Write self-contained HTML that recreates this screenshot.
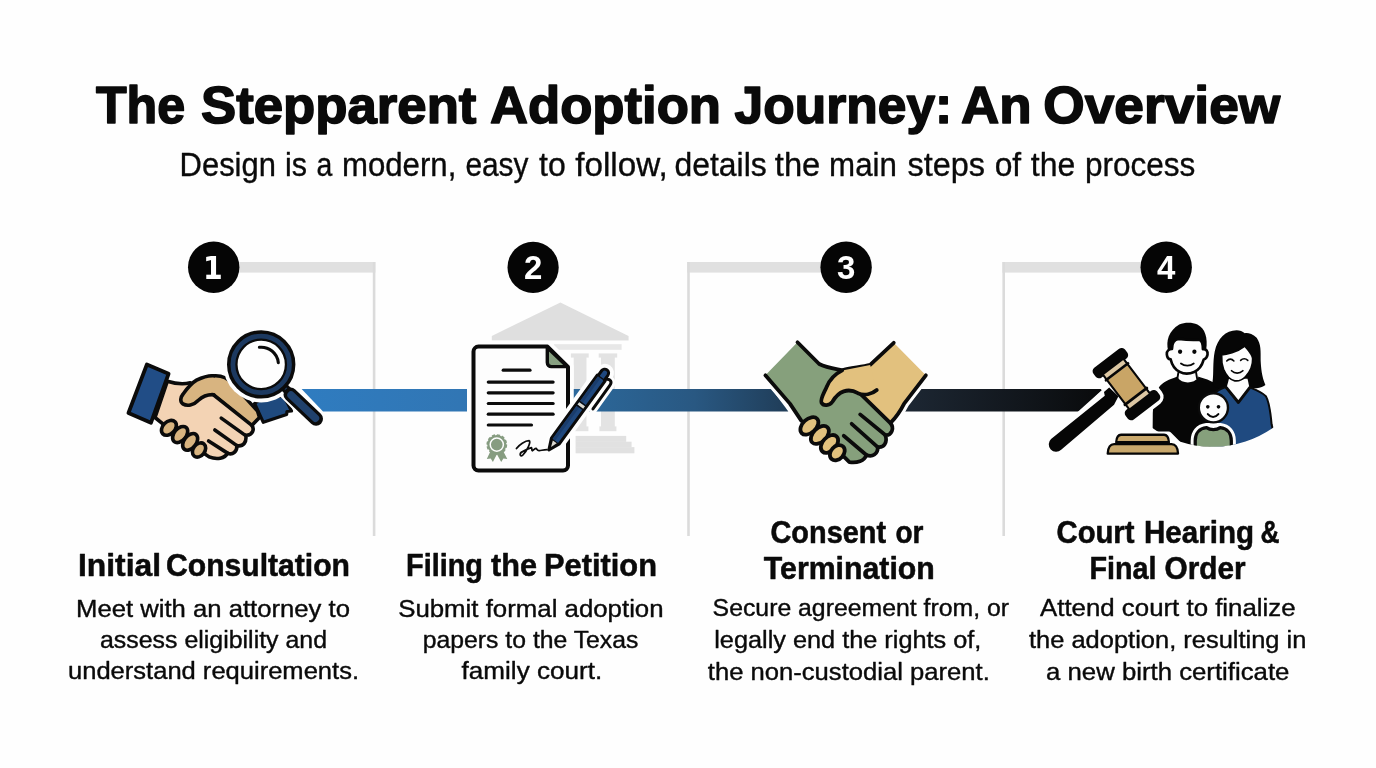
<!DOCTYPE html>
<html lang="en">
<head>
<meta charset="utf-8">
<title>The Stepparent Adoption Journey: An Overview</title>
<style>
html,body{margin:0;padding:0;background:#fff;}
body{width:1376px;height:768px;overflow:hidden;font-family:"Liberation Sans",sans-serif;}
svg{display:block;will-change:transform;}
text{font-family:"Liberation Sans",sans-serif;fill:#0a0a0a;}
.num{fill:#fff;font-weight:bold;font-size:33px;text-anchor:middle;}
</style>
</head>
<body>
<svg width="1376" height="768" viewBox="0 0 1376 768">
<defs>
<linearGradient id="tl" gradientUnits="userSpaceOnUse" x1="300" y1="0" x2="1105" y2="0">
<stop offset="0" stop-color="#2f7cc0"/>
<stop offset="0.2" stop-color="#3176b4"/>
<stop offset="0.373" stop-color="#2b6596"/>
<stop offset="0.49" stop-color="#295882"/>
<stop offset="0.6" stop-color="#203e5a"/>
<stop offset="0.76" stop-color="#1c2632"/>
<stop offset="1" stop-color="#090a0b"/>
</linearGradient>
<clipPath id="famclip">
<path transform="translate(1140,315) scale(0.18226)" d="M-100,-100 H900 V500 L742,610 A580,580 0 0 1 54,610 L-100,500 Z"/>
</clipPath>

</defs>
<rect width="1376" height="768" fill="#fefefe"/>
<!-- brackets -->
<g fill="#e0e0e0">
<rect x="230" y="262" width="145.4" height="10.6"/>
<rect x="687.2" y="262" width="150" height="10.6"/>
<rect x="1002.4" y="262" width="150" height="10.6"/>
</g>
<g fill="#dbdbdb">
<rect x="372.8" y="262" width="2.6" height="274"/>
<rect x="687.2" y="262" width="2.6" height="274"/>
<rect x="1002.4" y="262" width="2.6" height="274"/>
</g>

<g id="court">
<polygon points="560.4,302.5 628.6,336 628.6,340.6 491.8,340.6 491.8,336" fill="#dfdfdf"/>
<rect x="553.9" y="344.2" width="67.7" height="5.6" fill="#e7e7e7"/>
<g fill="#e3e3e3">
<rect x="570.9" y="353.4" width="17.8" height="4.2"/>
<rect x="573.7" y="357" width="12.8" height="70"/>
<rect x="572" y="426.4" width="16.4" height="4.8"/>
<rect x="598.7" y="353.4" width="18.5" height="4.2"/>
<rect x="601" y="357" width="13.8" height="70"/>
<rect x="599.4" y="426.4" width="17" height="4.8"/>
</g>
<g fill="#e1e1e1">
<rect x="575.6" y="435.9" width="50.6" height="6"/>
<rect x="575.6" y="441.7" width="56" height="5.6"/>
<rect x="575.6" y="447.1" width="58.8" height="6.2"/>
</g>
</g>

<!-- timeline -->
<g fill="url(#tl)">
<polygon points="301.6,389 467,389 467,411.6 323,411.6"/>
<polygon points="560,389 771.6,389 788.4,411.6 560,411.6"/>
<polygon points="921,389 1103.6,389 1079.6,411.6 903,411.6"/>
</g>

<!-- icons -->
<g id="icon2">
<!-- document halo -->
<path d="M478.5,346.6 H547.5 L568,367 V465.6 a5,5 0 0 1 -5,5 H478.5 a5,5 0 0 1 -5,-5 V351.6 a5,5 0 0 1 5,-5 Z" fill="#fefefe" stroke="#fefefe" stroke-width="11.5" stroke-linejoin="round"/>
<!-- document -->
<path d="M478.5,346.6 H547.5 L568,367 V465.6 a5,5 0 0 1 -5,5 H478.5 a5,5 0 0 1 -5,-5 V351.6 a5,5 0 0 1 5,-5 Z" fill="#fdfdfd" stroke="#0b0b0b" stroke-width="4" stroke-linejoin="round"/>
<!-- fold -->
<path d="M547.3,347.5 V362.6 a4,4 0 0 0 4,4 H567.2 Z" fill="#87a081" stroke="#0b0b0b" stroke-width="3.4" stroke-linejoin="round"/>
<!-- text lines -->
<g stroke="#0b0b0b" stroke-width="3.2" stroke-linecap="round" fill="none">
<path d="M503.2,370.2 H530"/>
<path d="M488.3,382.1 H553.1"/>
<path d="M488.3,392.8 H553.1"/>
<path d="M488.3,403.5 H553.1"/>
<path d="M488.3,414.2 H553.1"/>
<path d="M488.3,425 H531.5"/>
</g>
<!-- seal -->
<g fill="#869c80">
<polygon points="490.3,451.6 486.8,459 490.7,458.6 492.9,462.1 497.3,453.5"/>
<polygon points="496.5,453.5 501.2,462.1 503.4,458.6 507.3,459 503.4,451.6"/>
<circle cx="496.8" cy="444.6" r="9.6" stroke="#869c80" stroke-width="1.6" stroke-dasharray="3.2 1.8"/>
<circle cx="496.8" cy="444.6" r="6.6" fill="none" stroke="#fdfdfd" stroke-width="1.5"/>
</g>
<!-- pen -->
<g transform="translate(548.9,449.9) rotate(-54)">
  <path d="M0,0 L11,-5 H90 V-4 H95 a4,4 0 0 1 4,4 a4,4 0 0 1 -4,4 H90 V5 H11 Z" fill="#fefefe" stroke="#fefefe" stroke-width="10.5" stroke-linejoin="round"/>
  <path d="M91,6 C93,9 92,11.6 88,11.6 L59,11.8" fill="none" stroke="#fefefe" stroke-width="8.5" stroke-linecap="round"/>
  <path d="M91,5 C93.5,8 92.5,11.4 88,11.4 L59,11.6" fill="none" stroke="#0b0b0b" stroke-width="3" stroke-linecap="round"/>
  <path d="M0,0 L11,-4.9 H89 V-3.9 H95 a3.9,3.9 0 0 1 0,7.8 H89 V4.9 H11 Z" fill="#1f487e" stroke="#0b0b0b" stroke-width="3" stroke-linejoin="round"/>
  <path d="M11,-3.6 H89 V-0.4 H11 Z" fill="#1a3c6b"/>
  <path d="M0,0 L11,-4.9 V4.9 Z" fill="#0b0b0b"/>
  <path d="M3.6,0 L10,-2.4 V2.4 Z" fill="#dcdad2"/>
  <rect x="53.5" y="-3.5" width="3" height="7" fill="#dcd8cc"/>
  <path d="M52.6,-4.6 V4.6 M57.4,-4.6 V4.6 M89,-4 V4" stroke="#0b0b0b" stroke-width="1.3" fill="none"/>
</g>
<!-- signature -->
<g transform="translate(465,415) scale(0.08721)">
<path d="M590,385 C620,340 690,295 735,295 C765,300 705,420 662,460 C630,487 618,440 660,420 C700,397 740,380 762,374 C772,384 760,405 772,410 C790,400 800,384 816,384 C826,394 830,410 850,408 C880,405 900,400 940,398" fill="none" stroke="#0b0b0b" stroke-width="20" stroke-linecap="round" stroke-linejoin="round"/>
</g>
</g>

<g id="icon1">
<!-- right cuff (behind magnifier) -->
<path d="M254.6,403.5 L263.3,422.3 L286.6,414.6 L287,411.5 L291.5,411 L284,396 L262,398 Z" fill="#1f4a7e" stroke="#0b0b0b" stroke-width="3.2" stroke-linejoin="round"/>
<!-- hands: coordinates in 6.4x zoom space of region (120,350) -->
<g transform="translate(120,350) scale(0.15625)" stroke="#0b0b0b" stroke-width="23" stroke-linejoin="round" stroke-linecap="round">
  <!-- tan hand back -->
  <path d="M400,320 C430,240 500,190 590,166 C650,158 690,180 720,215 L880,390 L893,432 L840,486 L600,290 Z" fill="#d8b480"/>
  <!-- light hand -->
  <path d="M303,200 C350,215 400,222 450,210 L600,288 L838,478 C866,502 850,548 805,545 C812,590 790,620 748,612 C750,652 720,674 688,660 C672,694 620,704 570,684 L520,650 L290,485 L224,432 Z" fill="#f3d3b4"/>
  <!-- finger separators -->
  <path d="M648,436 L800,545 M607,512 L748,612 M567,582 L688,660" fill="none"/>
  <!-- tan thumb -->
  <path d="M600,286 C560,283 530,296 500,323 C470,355 430,362 402,345 C383,330 386,303 403,283 C428,248 455,213 490,193 C530,173 570,163 600,165" fill="#d8b480"/>
  <!-- tan finger tips -->
  <g fill="#d8b480">
  <ellipse cx="313" cy="498" rx="55" ry="39" transform="rotate(-45 313 498)"/>
  <ellipse cx="385" cy="541" rx="59" ry="39" transform="rotate(-50 385 541)"/>
  <ellipse cx="449" cy="588" rx="60" ry="39" transform="rotate(-52 449 588)"/>
  <ellipse cx="506" cy="640" rx="50" ry="37" transform="rotate(-52 506 640)"/>
  </g>
  <!-- left cuff -->
  <path d="M172,93 L311,152 L198,466 L54,403 Z" fill="#214d86" stroke-width="24"/>
</g>
<!-- magnifier -->
<g fill="none">
  <path d="M284,387 L316.5,419.5" stroke="#fefefe" stroke-width="19" stroke-linecap="round"/>
  <circle cx="261.2" cy="364.4" r="38" fill="#fefefe"/>
  <path d="M282,385 L292,395" stroke="#0b0b0b" stroke-width="8.5"/>
  <path d="M282,385 L292,395" stroke="#1e3c63" stroke-width="2.5"/>
  <path d="M290.5,394.5 L316,418.8" stroke="#0b0b0b" stroke-width="14" stroke-linecap="round"/>
  <path d="M291,395 L315.5,418.3" stroke="#20416c" stroke-width="7.4" stroke-linecap="round"/>
  <circle cx="261.2" cy="364.4" r="28.9" fill="#fefefe" stroke="#0b0b0b" stroke-width="10.6"/>
  <circle cx="261.2" cy="364.4" r="28.3" stroke="#1c3960" stroke-width="4.8"/>
  <path d="M259.4,347.3 A17.2,17.2 0 0 1 278.3,362.6" stroke="#0b0b0b" stroke-width="3.1" stroke-linecap="round"/>
</g>
</g>

<g id="icon3" transform="translate(755,330) scale(0.18878)" stroke="#0b0b0b" stroke-width="20" stroke-linejoin="round" stroke-linecap="round">
  <!-- white halo -->
  <path d="M225,65 L340,180 L465,210 L610,185 L735,68 L905,240 L790,390 L735,490 L720,540 L690,600 L640,660 L570,700 L500,705 L440,690 L300,590 L240,490 L185,390 L55,240 Z" fill="#fefefe" stroke="#fefefe" stroke-width="52"/>
  <!-- tan arm + hand back -->
  <path d="M735,68 L905,240 L790,390 C775,420 760,450 715,495 L480,330 L440,225 C470,205 540,200 610,185 Z" fill="#e2c17e" stroke="none"/>
  <path d="M905,240 L790,390 C775,420 760,450 718,492 M735,68 L610,185 C560,198 500,200 462,214" fill="none"/>
  <!-- green arm + hand -->
  <path d="M225,65 L340,180 C380,200 420,205 462,214 L560,340 L716,492 C742,520 722,560 690,556 C704,596 682,626 650,620 C652,656 622,676 590,662 C580,694 540,706 500,700 L440,640 L245,480 C225,450 205,420 185,390 L55,240 Z" fill="#86a07c" stroke="none"/>
  <path d="M225,65 L340,180 C380,200 420,205 462,214 M560,340 L716,492 C742,520 722,560 690,556 C704,596 682,626 650,620 C652,656 622,676 590,662 C580,694 540,706 500,700 L455,655 M245,480 C225,450 205,420 185,390 L55,240" fill="none"/>
  <path d="M557,447 L690,556 M512,497 L650,620 M470,560 L590,662" fill="none"/>
  <!-- tan thumb -->
  <path d="M462,214 C420,235 395,265 380,300 C365,335 345,365 352,385 C362,405 395,402 410,380 C425,355 440,335 470,325 C500,315 520,320 545,335 C580,350 620,340 645,318 L610,185 Z" fill="#e2c17e" stroke="none"/>
  <path d="M462,214 C420,235 395,265 380,300 C365,335 345,365 352,385 C362,405 395,402 410,380 C425,355 440,335 470,325 C500,315 520,320 545,335 C580,350 620,340 645,318" fill="none"/>
  <!-- tan finger tips -->
  <g fill="#e2c17e">
  <ellipse cx="288" cy="508" rx="56" ry="36" transform="rotate(-43 288 508)"/>
  <ellipse cx="343" cy="556" rx="57" ry="36" transform="rotate(-45 343 555)"/>
  <ellipse cx="393" cy="604" rx="55" ry="36" transform="rotate(-47 393 602)"/>
  <ellipse cx="436" cy="650" rx="45" ry="34" transform="rotate(-48 436 650)"/>
  </g>
</g>

<g id="icon4">
<!-- family -->
<g clip-path="url(#famclip)">
 <g transform="translate(1140,315) scale(0.18226)" stroke-linejoin="round" stroke-linecap="round">
  <!-- man body -->
  <path d="M205,338 C160,355 125,368 105,395 C80,430 70,500 70,560 L68,760 L480,760 L440,400 C420,370 360,350 318,338 C300,365 230,368 205,338 Z" fill="#060606"/>
  <!-- man neck -->
  <path d="M212,300 L205,342 C230,380 295,380 320,342 L312,300 Z" fill="#fdfdfd"/>
  <!-- woman hair -->
  <path d="M530,84 C470,84 425,130 410,200 C398,260 405,320 398,365 C396,385 410,400 440,402 L640,402 C660,398 680,392 688,384 C668,340 664,290 662,250 C662,200 665,160 640,125 C615,100 585,95 575,100 C562,90 548,84 530,84 Z" fill="#060606"/>
  <!-- woman body -->
  <path d="M470,395 C440,405 420,415 400,440 L380,760 L760,760 L722,600 C715,520 705,470 690,445 C665,420 640,412 600,396 L540,478 Z" fill="#1f4a80" stroke="#0b0b0b" stroke-width="11"/>
  <!-- woman neck / V -->
  <path d="M488,350 L476,396 L540,478 L600,396 L590,350 Z" fill="#fdfdfd"/>
  <path d="M474,398 L540,480 L602,398" fill="none" stroke="#0b0b0b" stroke-width="16"/>
 </g>
 <g transform="translate(1160,318) scale(0.10679)" stroke-linejoin="round" stroke-linecap="round">
  <!-- man hair -->
  <path d="M75,300 C55,220 80,120 180,62 C230,38 300,38 350,60 C420,95 450,180 432,300 Z" fill="#060606"/>
  <!-- man face -->
  <path d="M112,290 C112,240 130,200 175,196 C240,205 320,208 370,204 C395,215 402,250 402,292 C430,288 450,310 445,345 C440,370 425,385 410,388 C395,440 360,490 320,505 C275,525 225,525 185,505 C145,485 112,440 100,388 C82,385 66,365 64,340 C60,308 85,290 112,290 Z" fill="#fdfdfd" stroke="#060606" stroke-width="25"/>
  <path d="M172,512 L163,566 M338,512 L347,566" fill="none" stroke="#060606" stroke-width="18"/>
  <circle cx="188" cy="316" r="20" fill="#060606"/>
  <circle cx="322" cy="316" r="20" fill="#060606"/>
  <path d="M196,426 C230,452 282,452 316,426" fill="none" stroke="#060606" stroke-width="17"/>
  <!-- woman face -->
  <path d="M577,345 C620,345 720,320 795,262 C820,300 860,330 868,380 C870,440 850,500 800,550 C770,580 730,592 700,588 C660,580 620,540 595,480 C580,440 575,390 577,345 Z" fill="#fdfdfd" stroke="#060606" stroke-width="16"/>
  <path d="M625,402 C645,380 672,380 692,402 M755,397 C775,376 802,376 822,397" fill="none" stroke="#060606" stroke-width="15"/>
  <path d="M670,494 C700,524 745,524 776,494" fill="none" stroke="#060606" stroke-width="16"/>
 </g>
 <g transform="translate(1140,315) scale(0.18226)" stroke-linejoin="round" stroke-linecap="round">
  <!-- child body halo -->
  <path d="M303,760 L303,690 C303,650 325,622 365,618 L440,618 C478,622 501,650 501,690 L501,760 Z" fill="#fefefe" stroke="#fefefe" stroke-width="50"/>
  <!-- child body -->
  <path d="M303,760 L303,690 C303,650 325,622 365,618 C385,633 420,633 440,618 C478,622 501,650 501,690 L501,760 Z" fill="#86a07c" stroke="#0b0b0b" stroke-width="18"/>
  <!-- child head -->
  <circle cx="402.7" cy="509.2" r="80" fill="#fdfdfd" stroke="#0b0b0b" stroke-width="13"/>
  <circle cx="372" cy="504" r="10" fill="#060606"/>
  <circle cx="430.7" cy="504" r="10" fill="#060606"/>
  <path d="M372,544 C388,564 414,564 430,544" fill="none" stroke="#060606" stroke-width="11"/>
 </g>
</g>
<!-- gavel + base -->
<g transform="translate(1040,340) scale(0.16279)" stroke-linejoin="round" stroke-linecap="round">
  <!-- halos -->
  <path d="M470,582 H790 L848,640 V700 H415 V640 Z" fill="#fefefe" stroke="#fefefe" stroke-width="40"/>
  <g transform="translate(531,271) rotate(52.6)">
    <rect x="-200" y="-122" width="400" height="244" rx="30" fill="#fefefe" stroke="#fefefe" stroke-width="44"/>
  </g>
  <path d="M440,335 L100,640" stroke="#fefefe" stroke-width="120" fill="none"/>
  <!-- handle -->
  <path d="M482,346 L425,292 L393,320 L398,343 L68,608 A42,42 0 0 0 130,674 L455,398 Z" fill="#060606"/>
  <!-- head -->
  <g transform="translate(531,271) rotate(52.6)">
    <rect x="-200" y="-122" width="75" height="244" rx="26" fill="#060606"/>
    <rect x="125" y="-122" width="75" height="244" rx="26" fill="#060606"/>
    <rect x="-130" y="-80" width="260" height="160" fill="#dcc7a3"/>
    <rect x="-88" y="-80" width="176" height="160" fill="#c9a566"/>
    <rect x="-104" y="-93" width="17" height="186" rx="7" fill="#060606"/>
    <rect x="87" y="-93" width="17" height="186" rx="7" fill="#060606"/>
    <path d="M-130,-80 H130 M-130,80 H130" stroke="#060606" stroke-width="13" fill="none"/>
  </g>
  <!-- base -->
  <path d="M498,582 H762 C780,582 790,600 792,628 H468 C470,600 480,582 498,582 Z" fill="#c9a86c" stroke="#060606" stroke-width="14"/>
  <path d="M455,640 H808 C832,640 846,662 848,698 H416 C418,662 432,640 455,640 Z" fill="#c9a86c" stroke="#060606" stroke-width="14"/>
</g>
</g>

<!-- step numbers -->
<g>
<g>
<circle cx="213.7" cy="267.2" r="25.7" fill="#050505"/>
<circle cx="533.1" cy="267.4" r="25.6" fill="#050505"/>
<circle cx="846.1" cy="267.2" r="25.7" fill="#050505"/>
<circle cx="1166.2" cy="267.2" r="25.7" fill="#050505"/>
<text class="num" x="212.9" y="279.2" style="font-family:'DejaVu Sans','Liberation Sans',sans-serif;font-size:32.6px" textLength="19.7" lengthAdjust="spacingAndGlyphs">1</text>
<text class="num" x="533.1" y="279.2">2</text>
<text class="num" x="846.1" y="279.2">3</text>
<text class="num" x="1166.2" y="279.2">4</text>
</g>

</g>
<!-- text -->
<g>
<text id="t0" y="122.5" font-size="52.5" font-weight="bold" stroke="#0a0a0a" stroke-width="1.6" stroke-linejoin="round"><tspan x="95.90" textLength="89.20" lengthAdjust="spacingAndGlyphs">The</tspan> <tspan x="201.00" textLength="275.40" lengthAdjust="spacingAndGlyphs">Stepparent</tspan> <tspan x="490.00" textLength="231.00" lengthAdjust="spacingAndGlyphs">Adoption</tspan> <tspan x="734.60" textLength="217.60" lengthAdjust="spacingAndGlyphs">Journey:</tspan> <tspan x="961.00" textLength="70.60" lengthAdjust="spacingAndGlyphs">An</tspan> <tspan x="1043.30" textLength="236.90" lengthAdjust="spacingAndGlyphs">Overview</tspan></text>
<text id="t1" y="175.7" font-size="32.4" font-weight="normal" stroke="#0a0a0a" stroke-width="0.35" stroke-linejoin="round"><tspan x="179.60" textLength="96.30" lengthAdjust="spacingAndGlyphs">Design</tspan> <tspan x="285.00" textLength="22.00" lengthAdjust="spacingAndGlyphs">is</tspan> <tspan x="316.60" textLength="15.80" lengthAdjust="spacingAndGlyphs">a</tspan> <tspan x="342.00" textLength="114.30" lengthAdjust="spacingAndGlyphs">modern,</tspan> <tspan x="465.40" textLength="63.10" lengthAdjust="spacingAndGlyphs">easy</tspan> <tspan x="539.00" textLength="26.70" lengthAdjust="spacingAndGlyphs">to</tspan> <tspan x="575.20" textLength="92.50" lengthAdjust="spacingAndGlyphs">follow,</tspan> <tspan x="674.50" textLength="92.20" lengthAdjust="spacingAndGlyphs">details</tspan> <tspan x="774.80" textLength="45.50" lengthAdjust="spacingAndGlyphs">the</tspan> <tspan x="829.10" textLength="67.80" lengthAdjust="spacingAndGlyphs">main</tspan> <tspan x="907.60" textLength="77.40" lengthAdjust="spacingAndGlyphs">steps</tspan> <tspan x="994.70" textLength="26.50" lengthAdjust="spacingAndGlyphs">of</tspan> <tspan x="1030.80" textLength="44.40" lengthAdjust="spacingAndGlyphs">the</tspan> <tspan x="1085.00" textLength="110.30" lengthAdjust="spacingAndGlyphs">process</tspan></text>
<text id="t2" y="575.8" font-size="32.0" font-weight="bold" stroke="#0a0a0a" stroke-width="0.55" stroke-linejoin="round"><tspan x="78.00" textLength="83.00" lengthAdjust="spacingAndGlyphs">Initial</tspan> <tspan x="166.00" textLength="184.00" lengthAdjust="spacingAndGlyphs">Consultation</tspan></text>
<text id="t3" x="76.00" y="616.5" font-size="24.8" font-weight="normal" stroke="#0a0a0a" stroke-width="0.4" stroke-linejoin="round" textLength="274.00" lengthAdjust="spacingAndGlyphs">Meet with an attorney to</text>
<text id="t4" x="100.00" y="647.6" font-size="24.8" font-weight="normal" stroke="#0a0a0a" stroke-width="0.4" stroke-linejoin="round" textLength="227.00" lengthAdjust="spacingAndGlyphs">assess eligibility and</text>
<text id="t5" x="68.00" y="679.2" font-size="24.8" font-weight="normal" stroke="#0a0a0a" stroke-width="0.4" stroke-linejoin="round" textLength="291.00" lengthAdjust="spacingAndGlyphs">understand requirements.</text>
<text id="t6" y="575.8" font-size="32.0" font-weight="bold" stroke="#0a0a0a" stroke-width="0.55" stroke-linejoin="round"><tspan x="406.00" textLength="77.00" lengthAdjust="spacingAndGlyphs">Filing</tspan> <tspan x="491.00" textLength="46.00" lengthAdjust="spacingAndGlyphs">the</tspan> <tspan x="544.00" textLength="113.00" lengthAdjust="spacingAndGlyphs">Petition</tspan></text>
<text id="t7" x="398.20" y="616.5" font-size="24.8" font-weight="normal" stroke="#0a0a0a" stroke-width="0.4" stroke-linejoin="round" textLength="265.40" lengthAdjust="spacingAndGlyphs">Submit formal adoption</text>
<text id="t8" x="422.80" y="647.6" font-size="24.8" font-weight="normal" stroke="#0a0a0a" stroke-width="0.4" stroke-linejoin="round" textLength="215.60" lengthAdjust="spacingAndGlyphs">papers to the Texas</text>
<text id="t9" x="461.60" y="679.2" font-size="24.8" font-weight="normal" stroke="#0a0a0a" stroke-width="0.4" stroke-linejoin="round" textLength="140.60" lengthAdjust="spacingAndGlyphs">family court.</text>
<text id="t10" y="543" font-size="32.0" font-weight="bold" stroke="#0a0a0a" stroke-width="0.55" stroke-linejoin="round"><tspan x="770.50" textLength="115.50" lengthAdjust="spacingAndGlyphs">Consent</tspan> <tspan x="895.50" textLength="28.00" lengthAdjust="spacingAndGlyphs">or</tspan></text>
<text id="t11" x="763.80" y="578.6" font-size="32.0" font-weight="bold" stroke="#0a0a0a" stroke-width="0.55" stroke-linejoin="round" textLength="171.00" lengthAdjust="spacingAndGlyphs">Termination</text>
<text id="t12" x="712.60" y="616.2" font-size="24.8" font-weight="normal" stroke="#0a0a0a" stroke-width="0.4" stroke-linejoin="round" textLength="296.40" lengthAdjust="spacingAndGlyphs">Secure agreement from, or</text>
<text id="t13" x="714.20" y="647.7" font-size="24.8" font-weight="normal" stroke="#0a0a0a" stroke-width="0.4" stroke-linejoin="round" textLength="267.20" lengthAdjust="spacingAndGlyphs">legally end the rights of,</text>
<text id="t14" x="707.80" y="679.5" font-size="24.8" font-weight="normal" stroke="#0a0a0a" stroke-width="0.4" stroke-linejoin="round" textLength="282.00" lengthAdjust="spacingAndGlyphs">the non-custodial parent.</text>
<text id="t15" y="543" font-size="32.0" font-weight="bold" stroke="#0a0a0a" stroke-width="0.55" stroke-linejoin="round"><tspan x="1056.50" textLength="78.00" lengthAdjust="spacingAndGlyphs">Court</tspan> <tspan x="1144.00" textLength="110.00" lengthAdjust="spacingAndGlyphs">Hearing</tspan> <tspan x="1260.50" textLength="19.00" lengthAdjust="spacingAndGlyphs">&amp;</tspan></text>
<text id="t16" y="578.6" font-size="32.0" font-weight="bold" stroke="#0a0a0a" stroke-width="0.55" stroke-linejoin="round"><tspan x="1089.50" textLength="67.00" lengthAdjust="spacingAndGlyphs">Final</tspan> <tspan x="1164.50" textLength="81.00" lengthAdjust="spacingAndGlyphs">Order</tspan></text>
<text id="t17" x="1040.00" y="616.4" font-size="24.8" font-weight="normal" stroke="#0a0a0a" stroke-width="0.4" stroke-linejoin="round" textLength="255.60" lengthAdjust="spacingAndGlyphs">Attend court to finalize</text>
<text id="t18" x="1029.00" y="647.7" font-size="24.8" font-weight="normal" stroke="#0a0a0a" stroke-width="0.4" stroke-linejoin="round" textLength="277.40" lengthAdjust="spacingAndGlyphs">the adoption, resulting in</text>
<text id="t19" x="1046.00" y="679.6" font-size="24.8" font-weight="normal" stroke="#0a0a0a" stroke-width="0.4" stroke-linejoin="round" textLength="243.40" lengthAdjust="spacingAndGlyphs">a new birth certificate</text>
</g>
</svg>
</body>
</html>
